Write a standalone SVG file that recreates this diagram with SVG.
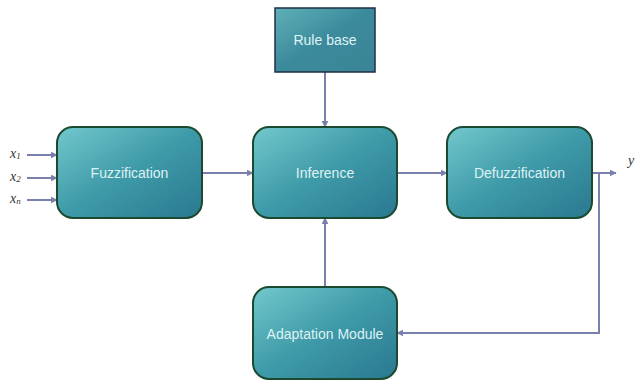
<svg xmlns="http://www.w3.org/2000/svg" width="639" height="381" viewBox="0 0 639 381">
<defs>
<linearGradient id="g" x1="0" y1="0" x2="1" y2="1">
<stop offset="0" stop-color="#72c8cc"/>
<stop offset="0.5" stop-color="#3e9aa8"/>
<stop offset="1" stop-color="#2a7890"/>
</linearGradient>
<linearGradient id="g2" x1="0" y1="0" x2="1" y2="1">
<stop offset="0" stop-color="#5fb0b8"/>
<stop offset="0.5" stop-color="#3b8a9c"/>
<stop offset="1" stop-color="#3a8595"/>
</linearGradient>
<marker id="a" viewBox="0 0 10 10" refX="9" refY="5" markerWidth="7" markerHeight="7" orient="auto" markerUnits="userSpaceOnUse">
<path d="M0,0 L10,5 L0,10 z" fill="#7a80ae"/>
</marker>
</defs>
<style>
.box{fill:url(#g);stroke:#1b4a30;stroke-width:2}
.rb{fill:url(#g2);stroke:#1f2f45;stroke-width:1.5}
.t{font-family:"Liberation Sans",Arial,sans-serif;font-size:14px;fill:#dff2f4;text-anchor:middle}
.c{fill:none;stroke:#7a80ae;stroke-width:2}
.v{font-family:"Liberation Serif","Times New Roman",serif;font-style:italic;font-size:14px;fill:#333}
</style>
<g id="connectors">
<line class="c" x1="27" y1="155" x2="57" y2="155" marker-end="url(#a)"/>
<line class="c" x1="27" y1="178" x2="57" y2="178" marker-end="url(#a)"/>
<line class="c" x1="27" y1="200" x2="57" y2="200" marker-end="url(#a)"/>
<line class="c" x1="202" y1="173" x2="253" y2="173" marker-end="url(#a)"/>
<line class="c" x1="397" y1="173" x2="447" y2="173" marker-end="url(#a)"/>
<line class="c" x1="592" y1="173" x2="616" y2="173" marker-end="url(#a)"/>
<line class="c" x1="325" y1="72" x2="325" y2="127" marker-end="url(#a)"/>
<line class="c" x1="325" y1="287" x2="325" y2="218" marker-end="url(#a)"/>
<polyline class="c" points="599,173 599,333 397,333" marker-end="url(#a)"/>
</g>
<g id="inputs">
<text class="v" x="10" y="158">x<tspan font-size="9" dy="1">1</tspan></text>
<text class="v" x="10" y="181">x<tspan font-size="9" dy="1">2</tspan></text>
<text class="v" x="10" y="203">x<tspan font-size="9" dy="1">n</tspan></text>
<text class="v" x="628" y="165" font-size="16">y</text>
</g>
<g id="rulebase">
<rect class="rb" x="275" y="8" width="100" height="64"/>
<text class="t" x="325" y="45">Rule base</text>
</g>
<g id="fuzzification">
<rect class="box" x="57" y="127" width="145" height="91" rx="16"/>
<text class="t" x="129.5" y="178">Fuzzification</text>
</g>
<g id="inference">
<rect class="box" x="253" y="127" width="144" height="91" rx="16"/>
<text class="t" x="325" y="178">Inference</text>
</g>
<g id="defuzzification">
<rect class="box" x="447" y="127" width="145" height="91" rx="16"/>
<text class="t" x="519.5" y="178">Defuzzification</text>
</g>
<g id="adaptation">
<rect class="box" x="253" y="287" width="144" height="92" rx="16"/>
<text class="t" x="325" y="339">Adaptation Module</text>
</g>
</svg>
